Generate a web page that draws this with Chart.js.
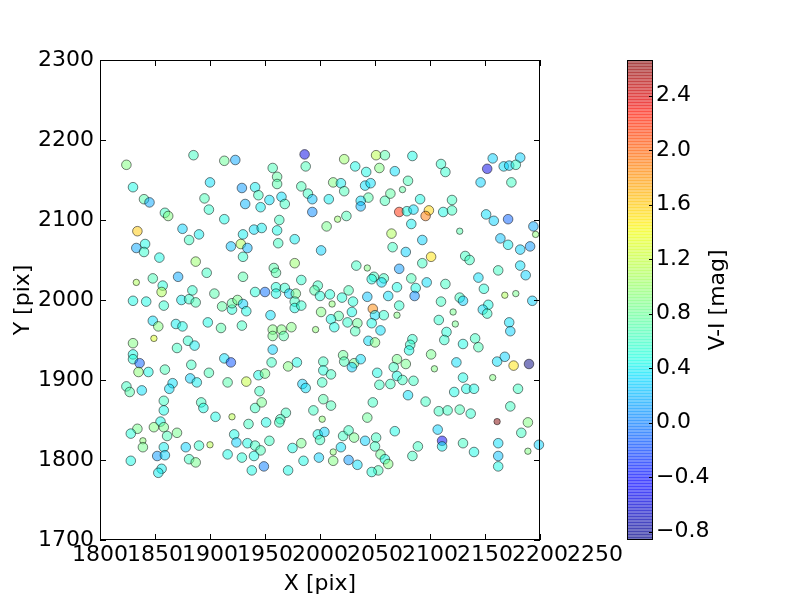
<!DOCTYPE html>
<html>
<head>
<meta charset="utf-8">
<script src="https://cdn.jsdelivr.net/npm/chart.js@4.4.1/dist/chart.umd.min.js"></script>
<style>
  body { margin: 0; background: #fff; }
  canvas { display: block; }
</style>
</head>
<body>
<canvas id="myChart" width="800" height="600"></canvas>
<script>
// star positions on the chip (pix) and their V-I colour (mag)
const xPix = [
  1824,1885,1913,1923,1830,1900,1929,1840,1845,1895,
  1899,1932,1859,1862,1913,1834,1875,1890,1881,1833,
  1841,1840,1854,1887,1919,1928,1930,1934,1930,1986,
  1987,1957,1961,1961,2022,2051,2059,2032,2042,2054,
  2068,1941,1944,1954,1965,1968,1946,1983,1989,1993,
  1993,2008,2012,2019,2022,2041,2046,2044,2037,2037,
  2059,2064,1963,2016,2024,2006,1940,1947,1961,1962,
  1977,2001,2065,2066,2084,2110,2114,2080,2075,2091,
  2120,2072,2079,2085,2099,2096,2112,2120,2083,2127,
  2093,2078,2101,2132,2136,2157,2182,2152,2167,2172,
  2178,2146,2174,2151,2158,2171,2194,2196,2164,2171,
  2182,2191,1833,1848,1871,1897,1930,1857,1856,1830,
  1842,1858,1874,1881,1884,1887,1904,1911,1920,1920,
  1925,1930,1933,1848,1853,1869,1875,1898,1910,1929,
  1849,1830,1880,1886,1870,1830,1830,1836,1913,1919,
  1977,1958,1960,1983,2033,2043,2049,2058,2056,2047,
  1941,1950,1960,1960,1968,1972,1978,1977,1977,1983,
  1998,1995,2000,2009,2026,2020,2030,2011,2043,2048,
  2062,2001,2017,2029,2050,2058,1955,2010,2025,2034,
  2013,2032,2047,2055,1996,1957,1965,1974,1957,1967,
  2044,2050,1957,1956,1979,1971,2003,2021,2022,2031,
  2037,2029,2003,2052,2093,2072,2182,2187,2162,2144,
  2083,2097,2114,2070,2087,2086,2149,2110,2127,2130,
  2168,2178,2193,2072,2070,2153,2148,2152,2121,2108,
  2123,2115,2113,2172,2173,2084,2082,2081,2130,2141,
  2144,2101,2070,2078,2124,2161,2168,2176,2190,2104,
  2067,1835,1844,1859,1883,1899,1916,1933,1824,1827,
  1838,1866,1863,1882,1888,1858,1858,1892,1894,1905,
  1920,1935,1855,1849,1858,1861,1870,1834,1828,1839,
  1839,1858,1852,1859,1878,1890,1900,1922,1924,1934,
  1916,1929,1828,1856,1853,1881,1887,1938,2010,1944,
  1950,1945,1984,1987,2002,2054,2064,1941,1947,1969,
  1964,1963,1951,1994,2003,2010,2002,2048,2043,2068,
  1998,2004,2000,2021,2026,2031,2041,2051,2050,2055,
  2059,2062,2053,2047,2019,2012,2012,2026,2034,1999,
  1983,1975,1985,1971,1954,1941,1946,1940,1949,2070,
  2075,2085,2080,2096,2130,2122,2133,2140,2108,2116,
  2127,2137,2157,2180,2173,2161,2189,2183,2199,2189,
  2162,2162,2162,2089,2084,2107,2111,2111,2130,2140
];
const yPix = [
  2169,2181,2174,2175,2141,2147,2140,2126,2122,2127,
  2113,2120,2109,2105,2101,2086,2089,2082,2075,2065,
  2070,2060,2053,2048,2067,2070,2082,2065,2054,2182,
  2167,2165,2154,2145,2176,2181,2181,2167,2160,2165,
  2161,2141,2131,2125,2129,2120,2116,2142,2133,2126,
  2110,2126,2147,2146,2136,2143,2146,2128,2124,2117,
  2124,2133,2100,2101,2105,2092,2088,2090,2087,2071,
  2076,2062,2083,2066,2180,2170,2160,2149,2138,2126,
  2125,2110,2111,2113,2112,2105,2110,2112,2095,2086,
  2075,2060,2054,2055,2050,2177,2178,2164,2167,2168,
  2169,2147,2147,2107,2099,2101,2092,2082,2077,2069,
  2063,2067,2022,2027,2029,2034,2029,2018,2010,1999,
  1998,1993,2000,2001,2012,1997,2008,1992,1988,1996,
  2000,1995,1986,1974,1967,1970,1967,1972,1965,1968,
  1952,1946,1949,1943,1940,1932,1926,1921,1927,1922,
  2046,2040,2034,2025,2043,2040,2029,2027,2022,2026,
  2010,2010,2016,2008,2015,2008,2008,1998,1990,1993,
  2018,2012,2005,2007,2012,2003,1998,1995,2004,1989,
  2005,1985,1980,1985,1981,1981,1981,1976,1972,1971,
  1966,1961,1971,1962,1963,1963,1963,1966,1955,1955,
  1949,1947,1938,1922,1922,1917,1923,1931,1923,1921,
  1926,1916,1912,1909,2046,2039,2043,2031,2037,2028,
  2027,2022,2020,2016,2015,2005,2014,1998,2003,1999,
  2006,2008,1999,1993,1981,1994,1988,1983,1985,1975,
  1970,1960,1950,1972,1961,1951,1944,1937,1945,1952,
  1941,1932,1926,1920,1922,1923,1929,1918,1920,1914,
  1916,1910,1910,1913,1919,1909,1897,1898,1892,1885,
  1887,1896,1889,1902,1897,1874,1862,1872,1865,1854,
  1854,1845,1848,1841,1841,1830,1834,1839,1833,1824,
  1816,1816,1805,1806,1816,1818,1819,1832,1822,1821,
  1807,1803,1799,1789,1784,1801,1797,1787,1907,1906,
  1908,1886,1895,1890,1897,1894,1895,1865,1872,1859,
  1851,1847,1847,1862,1876,1868,1851,1872,1853,1836,
  1832,1835,1825,1830,1837,1828,1824,1828,1817,1807,
  1801,1795,1787,1785,1816,1810,1799,1800,1794,1803,
  1821,1815,1799,1787,1824,1818,1812,1805,1792,1905,
  1900,1899,1881,1873,1903,1885,1889,1889,1861,1862,
  1863,1858,1903,1889,1867,1848,1847,1834,1819,1811,
  1821,1805,1792,1817,1805,1838,1824,1817,1821,1810
];
const vi = [
  0.9,0.6,0.8,0.15,0.45,0.35,0.1,0.7,0.15,0.65,
  0.55,0.2,0.6,0.9,0.45,1.6,0.3,0.4,0.6,0.15,
  0.45,0.55,0.45,1.0,0.25,1.1,0.4,0.2,0.55,-0.55,
  0.65,0.65,0.75,0.7,1.0,1.15,0.7,0.45,0.45,0.9,
  0.35,0.4,0.6,0.35,0.35,0.6,0.4,0.65,0.6,0.25,
  0.05,0.4,0.9,0.4,0.65,0.35,0.35,0.7,0.35,0.2,
  0.65,0.75,0.6,1.0,0.65,0.85,0.35,0.4,0.45,0.6,
  0.4,0.3,1.1,0.6,0.45,0.55,0.55,0.65,0.75,0.45,
  0.6,2.2,0.45,0.35,1.55,1.9,0.45,0.6,0.4,0.7,
  0.3,0.3,1.5,0.6,0.6,0.3,0.3,-0.55,0.35,0.3,
  0.55,0.3,0.6,0.35,0.3,-0.1,0.15,0.95,0.25,0.4,
  0.3,0.1,1.1,0.65,0.15,0.6,0.7,0.5,1.1,0.45,
  0.45,0.55,0.4,0.55,0.55,0.65,0.7,0.75,0.5,0.75,
  0.85,0.3,0.45,0.35,0.9,0.4,0.45,0.45,0.7,0.6,
  1.3,0.9,0.55,0.4,0.6,0.45,0.5,-0.1,0.35,-0.15,
  1.0,0.7,0.7,0.55,0.6,0.9,0.6,0.6,0.35,0.45,
  0.5,-0.05,0.5,0.45,0.55,0.3,0.85,0.6,0.45,0.55,
  0.6,0.7,0.5,0.5,0.65,0.5,0.5,0.95,0.25,1.85,
  0.35,0.9,0.7,0.45,0.35,0.55,0.35,0.45,0.55,0.8,
  0.45,0.65,0.45,0.35,0.95,0.9,0.9,0.9,0.85,0.7,
  0.35,0.9,0.3,0.6,0.45,0.9,0.6,0.8,0.65,0.85,
  0.35,0.3,0.5,0.45,0.6,0.1,0.35,0.3,0.6,0.35,
  0.65,0.35,0.6,0.45,0.45,0.05,0.5,0.6,0.6,0.3,
  1.1,0.85,0.3,0.55,0.9,0.45,0.35,0.55,0.85,0.55,
  0.85,0.5,0.55,0.35,0.3,0.55,0.55,0.45,0.45,0.6,
  0.65,0.85,0.85,0.85,0.35,0.35,0.3,1.5,-0.86,0.9,
  0.6,0.95,0.45,0.65,0.6,0.65,0.7,1.2,0.6,0.7,
  0.35,0.35,0.35,0.3,0.4,0.6,0.45,0.6,0.45,0.45,
  1.15,0.6,0.45,0.9,0.85,0.65,0.85,0.85,0.5,0.95,
  0.85,0.4,0.1,0.3,0.3,0.55,1.15,0.45,0.3,0.45,
  0.45,0.5,0.45,0.4,0.4,0.6,0.85,0.45,0.6,0.45,
  0.85,0.6,0.3,0.35,0.6,0.6,0.6,0.6,0.85,0.6,
  0.6,0.6,0.45,0.6,0.7,0.65,0.95,0.6,0.8,0.45,
  0.45,0.3,0.6,0.6,0.6,0.85,0.3,0.6,0.6,0.8,
  0.45,0.9,0.65,0.5,0.35,0.95,0.9,0.1,0.35,0.3,
  0.85,0.45,0.45,0.45,0.6,0.6,0.65,0.45,0.0,0.45,
  0.6,0.6,0.35,0.6,0.45,0.45,0.45,0.45,0.6,0.6,
  0.65,0.55,0.9,0.6,0.6,2.66,0.9,0.6,0.3,0.9,
  0.35,0.25,0.45,0.6,0.6,0.3,-0.5,0.4,0.6,0.45
];
// faint stars (drawn with the smaller marker), index into the arrays above
const faint = [63,78,89,107,112,140,155,177,194,230,231,234,238,240,259,280,289,296,326,345,372,375,379];

const xTicks = [1800,1850,1900,1950,2000,2050,2100,2150,2200,2250];
const cbTicks = [-0.8,-0.4,0.0,0.4,0.8,1.2,1.6,2.0,2.4];
const cbMin = -0.861, cbMax = 2.662;

const FONT = 'DejaVu Sans';

// matplotlib 'jet'
function seg(pts, t) {
  for (let i = 1; i < pts.length; i++) {
    if (t <= pts[i][0]) {
      const a = pts[i-1], b = pts[i];
      return a[1] + (b[1]-a[1]) * (t-a[0]) / (b[0]-a[0]);
    }
  }
  return pts[pts.length-1][1];
}
function jet(v, alpha) {
  let t = (v - cbMin) / (cbMax - cbMin);
  t = Math.max(0, Math.min(1, t));
  const r = seg([[0,0],[0.35,0],[0.66,1],[0.89,1],[1,0.5]], t);
  const g = seg([[0,0],[0.125,0],[0.375,1],[0.64,1],[0.91,0],[1,0]], t);
  const b = seg([[0,0.5],[0.11,1],[0.34,1],[0.65,0],[1,0]], t);
  return 'rgba(' + Math.round(r*255) + ',' + Math.round(g*255) + ',' + Math.round(b*255) + ',' + alpha + ')';
}

function fmt(v) {
  const s = Math.abs(v).toFixed(1);
  return v < 0 ? '\u2212' + s : s;
}

const framePlugin = {
  id: 'frame',
  afterDraw(chart) {
    const ctx = chart.ctx;
    const a = chart.chartArea;
    const xs = chart.scales.x, ys = chart.scales.y, cb = chart.scales.cb;
    ctx.save();
    ctx.strokeStyle = '#000';
    ctx.lineWidth = 1;
    // axes box
    ctx.strokeRect(Math.round(a.left)+0.5, Math.round(a.top)+0.5, Math.round(a.right-a.left)-1, Math.round(a.bottom-a.top)-1);
    // inward ticks on all four sides
    ctx.beginPath();
    xTicks.forEach(v => {
      if (v > xs.max) return;
      const px = Math.round(xs.getPixelForValue(v)) + 0.5;
      ctx.moveTo(px, a.bottom); ctx.lineTo(px, a.bottom - 6);
      ctx.moveTo(px, a.top); ctx.lineTo(px, a.top + 6);
    });
    ys.ticks.forEach(t => {
      const py = Math.round(ys.getPixelForValue(t.value)) + 0.5;
      ctx.moveTo(a.left, py); ctx.lineTo(a.left + 6, py);
      ctx.moveTo(a.right, py); ctx.lineTo(a.right - 6, py);
    });
    ctx.stroke();

    // the last x label sits past the axes edge
    ctx.fillStyle = '#000';
    ctx.font = '22px "' + FONT + '"';
    ctx.textAlign = 'center';
    ctx.textBaseline = 'middle';
    ctx.fillText('2250', xs.getPixelForValue(2250), xs.top + 2 + 22*1.2/2);

    // colour bar, banded like the matplotlib one
    const cbL = 627, cbR = 653;
    const top = cb.getPixelForValue(cbMax), bot = cb.getPixelForValue(cbMin);
    for (let y = Math.floor(top); y < bot; y++) {
      const band = (y - Math.floor(top)) % 3 === 0;
      ctx.fillStyle = jet(cb.getValueForPixel(y + 0.5), band ? 0.72 : 0.55);
      ctx.fillRect(cbL, y, cbR - cbL, 1);
    }
    ctx.strokeStyle = '#000';
    ctx.strokeRect(cbL + 0.5, Math.round(top) + 0.5, cbR - cbL - 1, Math.round(bot - top) - 1);
    ctx.beginPath();
    cbTicks.forEach(v => {
      const py = Math.round(cb.getPixelForValue(v)) + 0.5;
      ctx.moveTo(cbR, py); ctx.lineTo(cbR - 4, py);
    });
    ctx.stroke();
    ctx.fillStyle = '#000';
    ctx.textAlign = 'left';
    ctx.textBaseline = 'middle';
    cbTicks.forEach(v => {
      ctx.fillText(fmt(v), cbR + 3, cb.getPixelForValue(v));
    });
    ctx.translate(718, (top + bot) / 2);
    ctx.rotate(-Math.PI / 2);
    ctx.textAlign = 'center';
    ctx.fillText('V-I [mag]', 0, 0);
    ctx.restore();
  }
};

const tickFont = { family: FONT, size: 22 };
const plain = v => String(v);

new Chart(document.getElementById('myChart'), {
  type: 'scatter',
  data: {
    datasets: [{
      data: xPix.map((x, i) => ({ x: x, y: yPix[i] })),
      backgroundColor: vi.map(v => jet(v, 0.5)),
      borderColor: 'rgba(0,0,0,0.5)',
      borderWidth: 1,
      pointRadius: xPix.map((x, i) => faint.includes(i) ? 3.2 : 4.8),
      pointHoverRadius: xPix.map((x, i) => faint.includes(i) ? 3.2 : 4.8),
      clip: false
    }]
  },
  options: {
    responsive: false,
    animation: false,
    events: [],
    layout: { padding: { left: 0, right: 260, top: 60, bottom: 0 } },
    plugins: { legend: { display: false }, tooltip: { enabled: false } },
    scales: {
      x: {
        type: 'linear', min: 1800, max: 2200,
        grid: { display: false, drawTicks: false },
        border: { display: false },
        ticks: { stepSize: 50, autoSkip: false, maxRotation: 0, minRotation: 0, padding: 2, color: '#000', font: tickFont, callback: plain },
        title: { display: true, text: 'X [pix]', color: '#000', font: tickFont, padding: { top: 0, bottom: 3 } },
        afterFit(s) { s.height = 60; }
      },
      y: {
        type: 'linear', min: 1700, max: 2300,
        grid: { display: false, drawTicks: false },
        border: { display: false },
        ticks: { stepSize: 100, padding: 6, color: '#000', font: tickFont, callback: plain },
        title: { display: true, text: 'Y [pix]', color: '#000', font: tickFont, padding: { top: 10, bottom: 0 } },
        afterFit(s) { s.width = 100; }
      },
      cb: { type: 'linear', axis: 'y', display: false, min: cbMin, max: cbMax }
    }
  },
  plugins: [framePlugin]
});
</script>
</body>
</html>
